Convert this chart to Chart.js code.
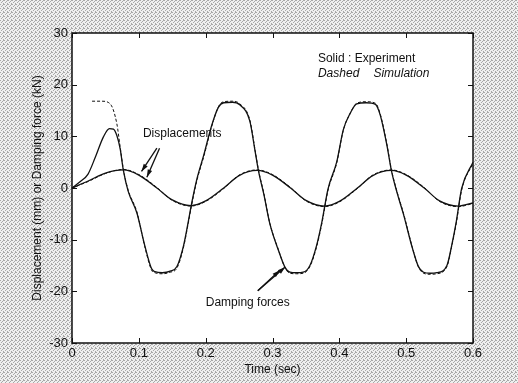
<!DOCTYPE html>
<html>
<head>
<meta charset="utf-8">
<script src="https://cdn.jsdelivr.net/npm/chart.js@4.4.1/dist/chart.umd.min.js"></script>
<style>
  html, body { margin: 0; padding: 0; background: #fff; }
  #wrap { width: 518px; height: 383px; }
</style>
</head>
<body>
<div id="wrap"><canvas id="chart" width="518" height="383"></canvas></div>
<script>
// displacement (mm), experiment and simulation
const dispTime = [0, 0.025, 0.05, 0.077, 0.1, 0.127, 0.15, 0.178, 0.2, 0.227, 0.25, 0.277, 0.3, 0.327, 0.35, 0.378, 0.4, 0.427, 0.45, 0.478, 0.5, 0.527, 0.55, 0.578, 0.6];
const dispExp  = [0, 1.4, 2.9, 3.5, 2.5, 0, -2.3, -3.4, -2.5, 0, 2.4, 3.4, 2.5, 0, -2.4, -3.5, -2.6, 0, 2.4, 3.4, 2.5, 0, -2.5, -3.5, -2.9];
const dispSim  = [0, 1.3, 2.8, 3.6, 2.6, 0.1, -2.4, -3.5, -2.6, -0.1, 2.5, 3.5, 2.6, 0.1, -2.5, -3.6, -2.7, -0.1, 2.5, 3.5, 2.6, 0.1, -2.6, -3.6, -3.0];

// damping force (kN), simulation (dashed)
const forceSimTime = [0.030, 0.045, 0.057, 0.067, 0.072, 0.077, 0.084, 0.097, 0.109, 0.119, 0.124, 0.135, 0.147, 0.157, 0.167, 0.174, 0.179, 0.187, 0.197, 0.209, 0.219, 0.227, 0.240, 0.251, 0.266, 0.274, 0.279, 0.287, 0.296, 0.309, 0.319, 0.326, 0.336, 0.346, 0.356, 0.366, 0.374, 0.383, 0.396, 0.406, 0.416, 0.426, 0.440, 0.454, 0.461, 0.471, 0.478, 0.487, 0.496, 0.509, 0.518, 0.526, 0.536, 0.546, 0.561, 0.568, 0.575, 0.583, 0.600];
const forceSim     = [16.8, 16.8, 16.3, 12.5, 8.0, 3.5, -0.4, -4.6, -11.4, -15.9, -16.4, -16.6, -16.3, -15.5, -11.4, -6.8, -3.3, 1.5, 6.0, 11.9, 15.7, 16.7, 16.8, 16.3, 13.2, 7.3, 3.5, -1.0, -6.8, -12.0, -15.5, -16.5, -16.6, -16.5, -15.2, -11.4, -6.8, -0.5, 4.8, 11.2, 14.4, 16.4, 16.7, 16.4, 14.4, 8.6, 3.5, -1.0, -4.9, -11.4, -15.2, -16.5, -16.7, -16.6, -15.2, -11.4, -6.8, -0.4, 4.8];

// damping force (kN), experiment (solid)
const forceExpTime = [0, 0.012, 0.024, 0.035, 0.047, 0.056, 0.062, 0.067, 0.072, 0.077, 0.084, 0.097, 0.109, 0.119, 0.124, 0.135, 0.147, 0.157, 0.167, 0.174, 0.179, 0.187, 0.197, 0.209, 0.219, 0.227, 0.240, 0.251, 0.266, 0.274, 0.279, 0.287, 0.296, 0.309, 0.319, 0.326, 0.336, 0.346, 0.356, 0.366, 0.374, 0.383, 0.396, 0.406, 0.416, 0.426, 0.440, 0.454, 0.461, 0.471, 0.478, 0.487, 0.496, 0.509, 0.518, 0.526, 0.536, 0.546, 0.561, 0.568, 0.575, 0.583, 0.600];
const forceExp     = [0, 1.2, 2.7, 6.0, 9.9, 11.5, 11.4, 10.2, 7.6, 3.3, -0.6, -4.8, -11.2, -15.6, -16.2, -16.4, -16.1, -15.2, -11.1, -6.5, -3.0, 1.8, 6.3, 12.1, 15.6, 16.5, 16.6, 16.1, 13.0, 7.1, 3.3, -1.2, -6.9, -12.1, -15.4, -16.3, -16.4, -16.3, -15.0, -11.1, -6.5, -0.2, 5.0, 11.3, 14.4, 16.3, 16.5, 16.2, 14.2, 8.4, 3.3, -1.2, -5.1, -11.5, -15.1, -16.3, -16.5, -16.4, -15.0, -11.2, -6.5, -0.1, 5.0];

// axis ticks
const xTicks = [0, 0.1, 0.2, 0.3, 0.4, 0.5, 0.6];
const yTicks = [-30, -20, -10, 0, 10, 20, 30];

// text notes and arrows, in data units
const notes = [
    { text: 'Solid : Experiment', x: 0.368, y: 25.1, italic: false, align: 'left' },
    { text: 'Dashed', x: 0.368, y: 22.2, italic: true, align: 'left' },
    { text: 'Simulation', x: 0.451, y: 22.2, italic: true, align: 'left' },
    { text: 'Displacements', x: 0.165, y: 10.6, italic: false, align: 'center' },
    { text: 'Damping forces', x: 0.263, y: -22.2, italic: false, align: 'center' }
];
const arrows = [
    { from: [0.127, 7.7], to: [0.104, 3.2] },
    { from: [0.131, 7.7], to: [0.112, 2.1] },
    { from: [0.278, -19.9], to: [0.311, -15.9] },
    { from: [0.278, -19.9], to: [0.319, -15.3] }
];

const FONT = "'Liberation Sans', Arial, sans-serif";

function toPoints(xs, ys) {
    return xs.map((x, i) => ({ x: x, y: ys[i] }));
}

function makePattern() {
    const p = document.createElement('canvas');
    p.width = 4; p.height = 4;
    const c = p.getContext('2d');
    c.fillStyle = '#efefef';
    c.fillRect(0, 0, 4, 4);
    c.fillStyle = '#a8a8a8';
    [[0, 0], [2, 1], [1, 2], [3, 3], [3, 0]].forEach(([a, b]) => c.fillRect(a, b, 1, 1));
    return p;
}

// paper background, white plot box, frame and inward ticks
const framePlugin = {
    id: 'frame',
    beforeDraw(chart) {
        const ctx = chart.ctx;
        const a = chart.chartArea;
        ctx.save();
        ctx.fillStyle = ctx.createPattern(makePattern(), 'repeat');
        ctx.fillRect(0, 0, chart.width, chart.height);
        ctx.fillStyle = '#fff';
        ctx.fillRect(a.left, a.top, a.right - a.left, a.bottom - a.top);
        ctx.restore();
    },
    afterDraw(chart) {
        const ctx = chart.ctx;
        const a = chart.chartArea;
        const xs = chart.scales.x, ys = chart.scales.y;
        ctx.save();
        ctx.strokeStyle = '#111';
        ctx.lineWidth = 1.5;
        ctx.strokeRect(a.left, a.top, a.right - a.left, a.bottom - a.top);
        ctx.lineWidth = 1;
        ctx.beginPath();
        xTicks.forEach(v => {
            const px = Math.round(xs.getPixelForValue(v)) + 0.5;
            ctx.moveTo(px, a.bottom); ctx.lineTo(px, a.bottom - 5);
            ctx.moveTo(px, a.top); ctx.lineTo(px, a.top + 5);
        });
        yTicks.forEach(v => {
            const py = Math.round(ys.getPixelForValue(v)) + 0.5;
            ctx.moveTo(a.left, py); ctx.lineTo(a.left + 5, py);
            ctx.moveTo(a.right, py); ctx.lineTo(a.right - 5, py);
        });
        ctx.stroke();

        // notes
        ctx.fillStyle = '#111';
        ctx.textBaseline = 'middle';
        notes.forEach(n => {
            ctx.font = (n.italic ? 'italic ' : '') + '12px ' + FONT;
            ctx.textAlign = n.align;
            ctx.fillText(n.text, xs.getPixelForValue(n.x), ys.getPixelForValue(n.y));
        });

        // arrows
        arrows.forEach(ar => {
            const x0 = xs.getPixelForValue(ar.from[0]), y0 = ys.getPixelForValue(ar.from[1]);
            const x1 = xs.getPixelForValue(ar.to[0]), y1 = ys.getPixelForValue(ar.to[1]);
            const ang = Math.atan2(y1 - y0, x1 - x0);
            ctx.lineWidth = 1.3;
            ctx.beginPath();
            ctx.moveTo(x0, y0); ctx.lineTo(x1, y1);
            ctx.stroke();
            ctx.beginPath();
            ctx.moveTo(x1, y1);
            ctx.lineTo(x1 - 8 * Math.cos(ang - 0.3), y1 - 8 * Math.sin(ang - 0.3));
            ctx.lineTo(x1 - 8 * Math.cos(ang + 0.3), y1 - 8 * Math.sin(ang + 0.3));
            ctx.closePath();
            ctx.fill();
        });
        ctx.restore();
    }
};

const lineBase = {
    showLine: true,
    pointRadius: 0,
    borderColor: '#111',
    backgroundColor: '#111',
    cubicInterpolationMode: 'monotone',
    fill: false
};

new Chart(document.getElementById('chart').getContext('2d'), {
    type: 'scatter',
    data: {
        datasets: [
            Object.assign({ label: 'Displacement (experiment)', data: toPoints(dispTime, dispExp), borderWidth: 1.3 }, lineBase),
            Object.assign({ label: 'Displacement (simulation)', data: toPoints(dispTime, dispSim), borderWidth: 1, borderDash: [3, 2] }, lineBase),
            Object.assign({ label: 'Damping force (experiment)', data: toPoints(forceExpTime, forceExp), borderWidth: 1.3 }, lineBase),
            Object.assign({ label: 'Damping force (simulation)', data: toPoints(forceSimTime, forceSim), borderWidth: 1, borderDash: [3, 2] }, lineBase)
        ]
    },
    options: {
        responsive: false,
        animation: false,
        layout: { padding: { left: 26, top: 33, right: 45, bottom: 0 } },
        plugins: {
            legend: { display: false },
            tooltip: { enabled: false }
        },
        scales: {
            x: {
                type: 'linear',
                min: 0,
                max: 0.6,
                afterFit: (s) => { s.height = 40; },
                afterBuildTicks: (s) => { s.ticks = xTicks.map(v => ({ value: v })); },
                grid: { display: false, drawTicks: false },
                border: { display: false },
                ticks: {
                    padding: 3,
                    color: '#111',
                    font: { family: FONT, size: 13 },
                    callback: (v) => String(v)
                },
                title: {
                    display: true,
                    text: 'Time (sec)',
                    color: '#111',
                    font: { family: FONT, size: 12 },
                    padding: { top: 0, bottom: 6 }
                }
            },
            y: {
                min: -30,
                max: 30,
                afterFit: (s) => { s.width = 46; },
                afterBuildTicks: (s) => { s.ticks = yTicks.map(v => ({ value: v })); },
                grid: { display: false, drawTicks: false },
                border: { display: false },
                ticks: {
                    padding: 4,
                    color: '#111',
                    font: { family: FONT, size: 13 },
                    callback: (v) => String(v)
                },
                title: {
                    display: true,
                    text: 'Displacement (mm) or Damping force (kN)',
                    color: '#111',
                    font: { family: FONT, size: 12 },
                    padding: { top: 4, bottom: 4 }
                }
            }
        }
    },
    plugins: [framePlugin]
});
</script>
</body>
</html>
